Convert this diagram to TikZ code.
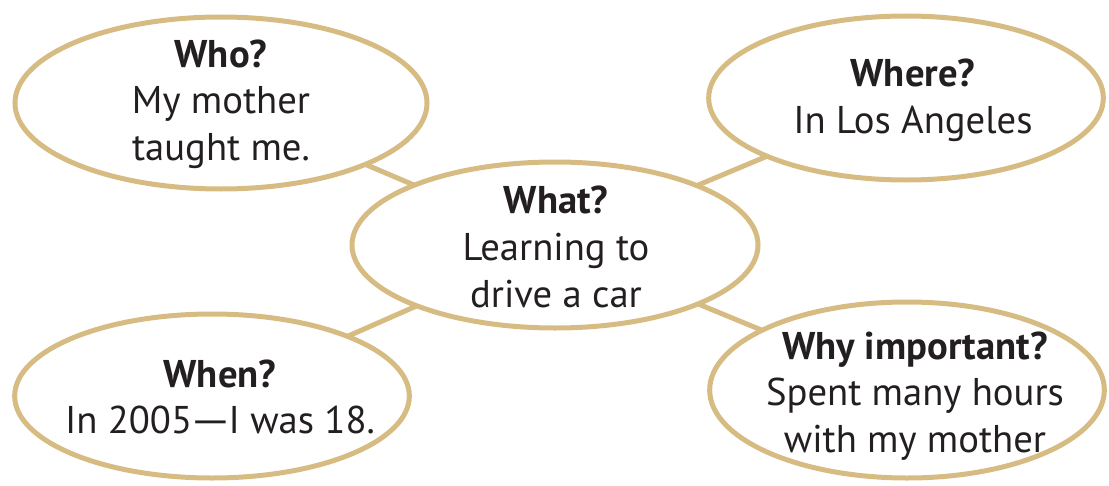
\documentclass[tikz,border=0pt]{standalone}
\usepackage{fontspec}
\usepackage{graphicx}
\setmainfont{PT Sans}
\usetikzlibrary{shapes.geometric,backgrounds}
\definecolor{tan}{RGB}{214,188,130}
\definecolor{ink}{RGB}{35,31,32}
\tikzset{
  bubble/.style={ellipse, draw=tan, line width=3.75pt, fill=white, inner sep=0pt},
  txt/.style={align=center, text=ink, inner sep=0pt, font=\fontsize{29}{35}\selectfont},
  link/.style={draw=tan, line width=3.75pt}
}
\begin{document}
\begin{tikzpicture}[x=0.75pt,y=-0.75pt]
\useasboundingbox (0,0) rectangle (1109,485);
\node[bubble, minimum width=304.5pt, minimum height=124.5pt] (what) at (555,245) {};
\node[bubble, minimum width=309pt, minimum height=129pt] (who) at (221,103) {};
\node[bubble, minimum width=296pt, minimum height=123pt] (where) at (906,98) {};
\node[bubble, minimum width=296pt, minimum height=123pt] (when) at (212,396) {};
\node[bubble, minimum width=296pt, minimum height=132pt] (why) at (907,390) {};
\node[txt] (whatT) at (556,247) {\textbf{What?}\\Learning to\\drive a car};
\node[txt] (whoT) at (221,104) {\textbf{Who?}\\My mother\\taught me.};
\node[txt] (whereT) at (913,100) {\textbf{Where?}\\In Los Angeles};
\node[txt] (whenT) at (220,397) {\textbf{When?}\\In 2005\kern-0.08em\scalebox{1.35}[1]{—}\kern-0.08em I was 18.};
\node[txt] (whyT) at (915,396) {\textbf{Why important?}\\Spent many hours\\with my mother};
\begin{pgfonlayer}{background}
\draw[link] (who.center) -- (what.center);
\draw[link] (where.center) -- (what.center);
\draw[link] (when.center) -- (what.center);
\draw[link] (why.center) -- (what.center);
\end{pgfonlayer}
\end{tikzpicture}
\end{document}
